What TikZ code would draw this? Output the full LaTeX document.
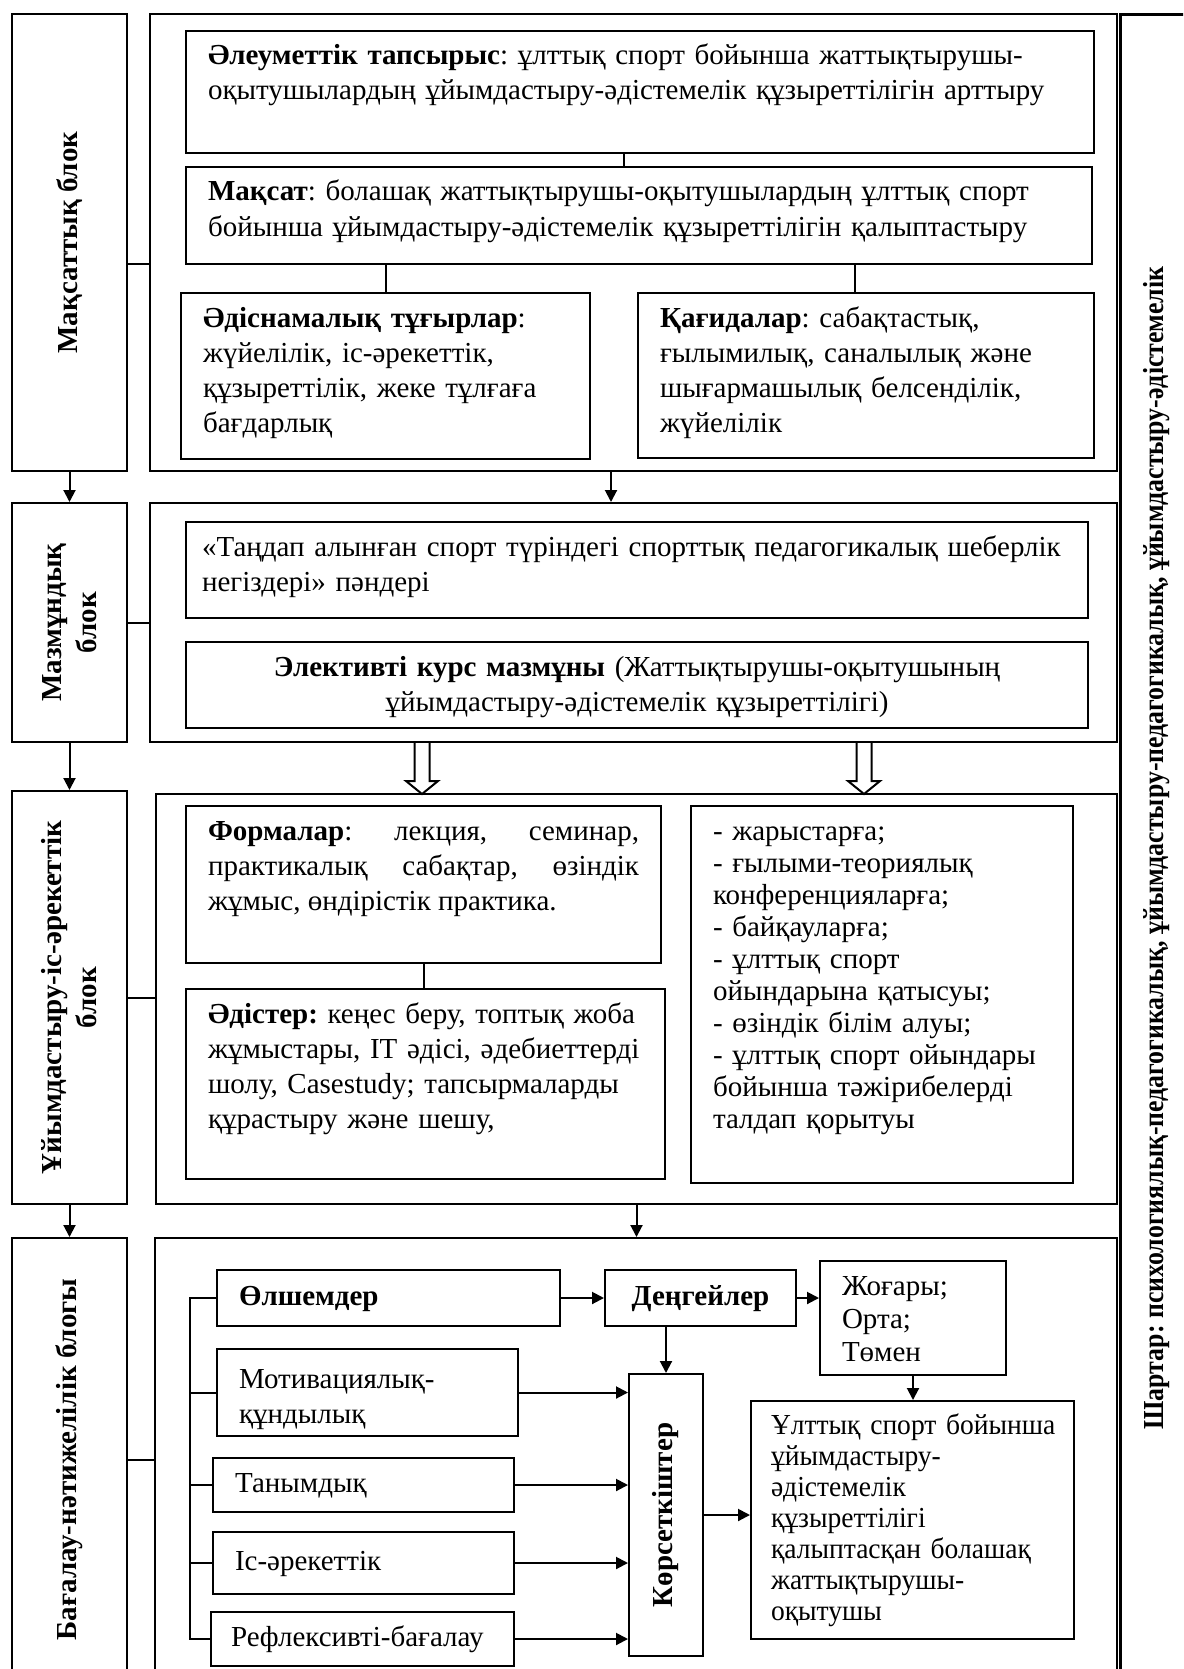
\documentclass[tikz,border=0pt]{standalone}
\usepackage{fontspec}
\setmainfont{Liberation Serif}
\newfontfamily\condfont{Liberation Serif}[FakeStretch=0.89]
\newfontfamily\narrowfont{Liberation Serif}[FakeStretch=0.95]
\usetikzlibrary{arrows.meta}
\frenchspacing
\newcommand\fsz[1]{\fontsize{14.5pt}{#1}\selectfont\hyphenpenalty=10000\exhyphenpenalty=10000}
\newcommand\fs{\fsz{17.5pt}}
\tikzset{
  blk/.style={draw, line width=1pt, anchor=north west, inner sep=0pt, minimum width=57.5pt},
  lbl/.style={rotate=90, font=\fs\bfseries, align=center},
  frm/.style={draw, line width=1pt, anchor=north west, inner sep=0pt},
  box/.style={draw, line width=1pt, anchor=north west, align=left, inner xsep=11pt, inner ysep=0pt, text height=17pt, font=\fs},
  sbox/.style={draw, line width=1pt, anchor=north west, align=left, inner xsep=11pt, inner ysep=0pt, text height=10pt, text depth=3pt, font=\fs},
  arr/.style={line width=1pt, -{Triangle[length=6pt, width=6pt]}},
  lnk/.style={line width=1pt}
}
\begin{document}
\begin{tikzpicture}[x=0.5pt, y=-0.5pt]
\path[use as bounding box, clip] (0,0) rectangle (1183,1669);

% blocks on the left
\node[blk, minimum height=228.5pt, label={[lbl]center:Мақсаттық блок}] (b1) at (11,13) {};
\node[blk, minimum height=119.5pt, label={[lbl]center:{Мазмұндық\\блок}}] (b2) at (11,502) {};
\node[blk, minimum height=206.5pt, label={[lbl]center:{Ұйымдастыру-іс-әрекеттік\\блок}}] (b3) at (11,790) {};
\node[blk, minimum height=221.5pt, label={[lbl]center:Бағалау-нәтижелілік блогы}] (b4) at (11,1237) {};

% frames
\node[frm, minimum width=483.5pt, minimum height=228.5pt] (f1) at (149,13) {};
\node[frm, minimum width=483.5pt, minimum height=119.5pt] (f2) at (149,502) {};
\node[frm, minimum width=480.5pt, minimum height=205pt] (f3) at (155,793) {};
\node[frm, minimum width=481pt, minimum height=221.5pt] (f4) at (154,1237) {};
\node[frm, line width=1.5pt, minimum width=36pt, minimum height=833.5pt,
  label={[lbl, font=\fs\condfont\bfseries]center:{Шартар: психологиялық-педагогикалық, ұйымдастыру-педагогикалық, ұйымдастыру-әдістемелік}}] (shart) at (1119,13) {};

% target block
\node[box, text width=432pt, text depth=44pt] (tap) at (185,30) {\textbf{Әлеуметтік тапсырыс}: ұлттық спорт бойынша жаттықтырушы-\\оқытушылардың ұйымдастыру-әдістемелік құзыреттілігін арттыру};
\node[box, text width=431pt, text depth=31.5pt] (maks) at (185,166) {\textbf{Мақсат}: болашақ жаттықтырушы-оқытушылардың ұлттық спорт\\бойынша ұйымдастыру-әдістемелік құзыреттілігін қалыптастыру};
\node[box, text width=182.5pt, text depth=66pt] (tugyr) at (180,292) {\textbf{Әдіснамалық тұғырлар}:\\жүйелілік, іс-әрекеттік,\\құзыреттілік, жеке тұлғаға\\бағдарлық};
\node[box, text width=206pt, text depth=65.5pt] (kag) at (637,292) {\textbf{Қағидалар}: сабақтастық,\\ғылымилық, саналылық және\\шығармашылық белсенділік,\\жүйелілік};

% content block
\node[box, inner xsep=8pt, text width=435pt, text depth=31pt] (pan) at (185,521) {«Таңдап алынған спорт түріндегі спорттық педагогикалық шеберлік\\негіздері» пәндері};
\node[box, align=center, text width=429pt, text depth=26pt] (elek) at (185,641) {\textbf{Элективті курс мазмұны} (Жаттықтырушы-оқытушының\\ұйымдастыру-әдістемелік құзыреттілігі)};

% activity block
\node[box, align=justify, text width=215.5pt, text depth=61.5pt] (form) at (185,805) {\textbf{Формалар}: лекция, семинар,\linebreak практикалық сабақтар, өзіндік\linebreak жұмыс, өндірістік практика.};
\node[box, text width=217.5pt, text depth=78pt] (adis) at (185,988) {\textbf{Әдістер:} кеңес беру, топтық жоба\\жұмыстары, IT әдісі, әдебиеттерді\\шолу, Casestudy; тапсырмаларды\\құрастыру және шешу,};
\node[box, font=\fsz{16pt}, text width=169pt, text depth=171.5pt] (list) at (690,805) {- жарыстарға;\\- ғылыми-теориялық\\конференцияларға;\\- байқауларға;\\- ұлттық спорт\\ойындарына қатысуы;\\- өзіндік білім алуы;\\- ұлттық спорт ойындары\\бойынша тәжірибелерді\\талдап қорытуы};

% evaluation block
\node[sbox, text width=149.5pt, minimum height=28pt] (olsh) at (216,1269) {\textbf{Өлшемдер}};
\node[sbox, align=center, inner xsep=5pt, text width=85.5pt, minimum height=28pt] (deng) at (604,1269) {\textbf{Деңгейлер}};
\node[box, font=\fsz{16.5pt}, text width=71pt, text depth=40pt] (jog) at (819,1260) {Жоғары;\\Орта;\\Төмен};
\node[box, text height=19.5pt, text width=128.5pt, text depth=24pt] (motiv) at (216,1348) {Мотивациялық-\\құндылық};
\node[sbox, text width=128.5pt, minimum height=27pt] (tanym) at (212,1457) {Танымдық};
\node[sbox, text width=128.5pt, minimum height=31pt] (ises) at (212,1531) {Іс-әрекеттік};
\node[sbox, inner xsep=10pt, text width=131.5pt, minimum height=27pt] (refl) at (210,1611) {Рефлексивті-бағалау};
\node[frm, minimum width=37pt, minimum height=141pt, label={[lbl]center:Көрсеткіштер}] (kors) at (628,1373) {};
\node[box, font=\fsz{15.5pt}\narrowfont, inner xsep=10pt, text height=16.5pt, text width=141.5pt, text depth=102.5pt] (nat) at (750,1400) {\mbox{Ұлттық спорт бойынша}\\ұйымдастыру-\\әдістемелік\\құзыреттілігі\\қалыптасқан болашақ\\жаттықтырушы-\\оқытушы};

% links between blocks and frames
\draw[lnk] ([yshift=-10.75pt]b1.east) -- ([yshift=-10.75pt]f1.west);
\draw[lnk] (b2.east) -- (f2.west);
\draw[lnk] (b3.east) -- (b3.east -| f3.west);
\draw[lnk] (b4.east) -- (b4.east -| f4.west);
\draw[arr] (b1.south) -- (b2.north);
\draw[arr] (b2.south) -- (b3.north);
\draw[arr] (b3.south) -- (b4.north);
\draw[arr] ([xshift=-11.25pt]f1.south) -- ([xshift=-11.25pt]f2.north);
\draw[arr] (f3.south) -- (f3.south |- f4.north);

% links inside frames
\draw[lnk] ([xshift=-8pt]tap.south) -- ([xshift=-8pt]tap.south |- maks.north);
\draw[lnk] (tugyr.north) -- (tugyr.north |- maks.south);
\draw[lnk] ([xshift=-5.5pt]kag.north) -- ([xshift=-5.5pt]kag.north |- maks.south);
\draw[lnk] (form.south) -- (form.south |- adis.north);

% hollow arrows
\draw[lnk] ([xshift=-105.75pt]f2.south) ++(-7.5,0) -- ++(0,38) -- ++(-8.5,0) -- ++(16,13) -- ++(16,-13) -- ++(-8.5,0) -- ++(0,-38);
\draw[lnk] ([xshift=115.25pt]f2.south) ++(-7.5,0) -- ++(0,38) -- ++(-8.5,0) -- ++(16,13) -- ++(16,-13) -- ++(-8.5,0) -- ++(0,-38);

% evaluation links
\coordinate (spine) at (190,1297);
\draw[lnk] (olsh.west) -- (olsh.west -| spine) -- (refl.west -| spine) -- (refl.west);
\foreach \n in {motiv,tanym,ises} \draw[lnk] (\n.west) -- (\n.west -| spine);
\draw[arr] (olsh.east) -- (deng.west);
\draw[arr] (deng.east) -- (deng.east -| jog.west);
\draw[arr] (kors.north |- deng.south) -- (kors.north);
\foreach \n in {motiv,tanym,ises,refl} \draw[arr] (\n.east) -- (\n.east -| kors.west);
\draw[arr] (jog.south) -- (jog.south |- nat.north);
\draw[arr] (kors.east) -- (kors.east -| nat.west);
\end{tikzpicture}
\end{document}
